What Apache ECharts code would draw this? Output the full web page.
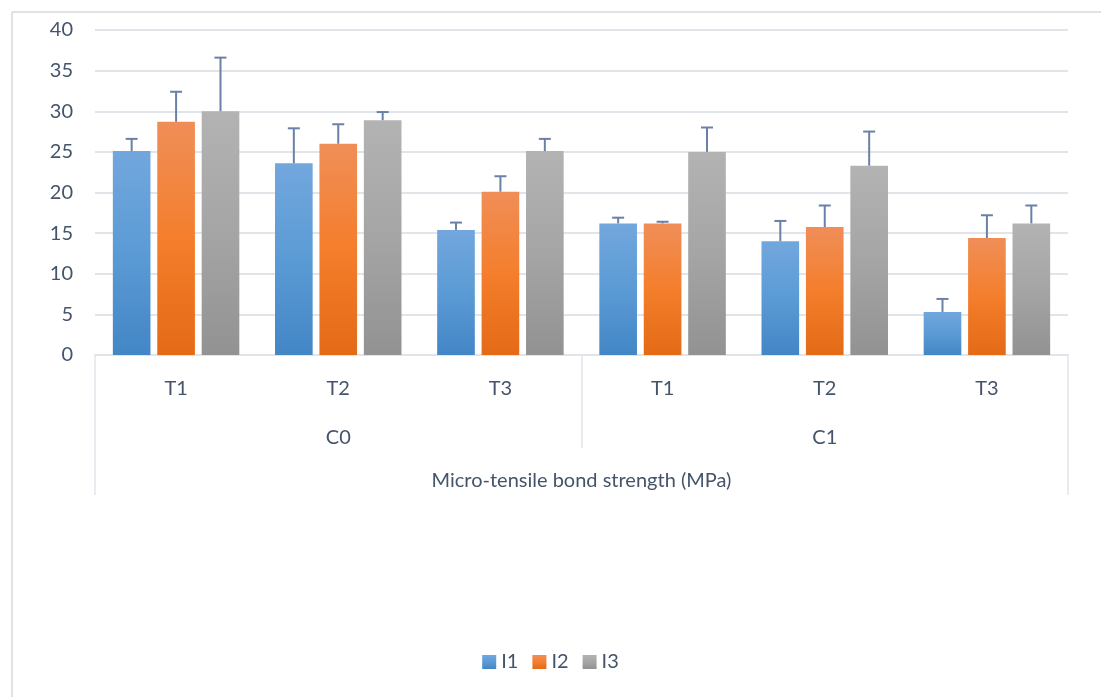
<!DOCTYPE html>
<html>
<head>
<meta charset="utf-8">
<script src="https://cdn.jsdelivr.net/npm/echarts@6/dist/echarts.min.js"></script>
<style>
  html, body { margin: 0; padding: 0; background: #fff; }
  #chartDom { width: 1101px; height: 697px; }
</style>
</head>
<body>
<div id="chartDom"></div>
<script>
// 数据
const subCats = ["T1", "T2", "T3", "T1", "T2", "T3"];
const groupCats = ["C0", "C1"];
const axisTitle = ["Micro-tensile bond strength (MPa)"];
const seriesNames = ["I1", "I2", "I3"];
const yTicks = [0, 5, 10, 15, 20, 25, 30, 35, 40];

const i1 = [25.1, 23.6, 15.4, 16.2, 14.0, 5.3];
const i2 = [28.7, 26.0, 20.1, 16.2, 15.75, 14.4];
const i3 = [30.0, 28.9, 25.1, 25.0, 23.3, 16.2];
// 误差线上端
const i1Err = [26.6, 27.9, 16.3, 16.9, 16.5, 6.9];
const i2Err = [32.4, 28.4, 22.0, 16.4, 18.4, 17.2];
const i3Err = [36.6, 29.9, 26.6, 28.0, 27.5, 18.4];

const textColor = "#44546A";
const gridColor = "#e1e5ea";
const font = "Lato";
const fs = 20;

const myChart = echarts.init(document.getElementById("chartDom"), null, { renderer: "canvas" });

function grad(top, mid, bottom) {
  return new echarts.graphic.LinearGradient(0, 0, 0, 1, [
    { offset: 0, color: top },
    { offset: 0.5, color: mid },
    { offset: 1, color: bottom },
  ]);
}
const fills = [
  grad("#72a7dd", "#5b9bd5", "#4386c6"),
  grad("#f08e58", "#f47e2c", "#e46a16"),
  grad("#b3b3b3", "#a5a5a5", "#929292"),
];
const values = [i1, i2, i3];
const errs = [i1Err, i2Err, i3Err];

const barCategoryGap = "22%";
const barGap = "18%";

// 误差线 (custom series, 只画上方)
function errSeries(k) {
  const data = values[k].map((v, i) => [i, v, errs[k][i]]);
  return {
    type: "custom",
    name: "err" + k,
    xAxisIndex: 0,
    z: 5,
    data: data,
    renderItem: function (params, api) {
      const idx = api.value(0);
      const p0 = api.coord([idx, api.value(1)]);
      const p1 = api.coord([idx, api.value(2)]);
      const band = api.size([1, 0])[0];
      const inner = band * (1 - 0.22);
      const bw = inner / (3 + 2 * 0.18);
      const x = p0[0] - inner / 2 + bw / 2 + k * bw * 1.18;
      const style = { stroke: "#6a80a6", lineWidth: 2 };
      return {
        type: "group",
        children: [
          { type: "line", shape: { x1: x, y1: p0[1], x2: x, y2: p1[1] }, style: style },
          { type: "line", shape: { x1: x - 6, y1: p1[1], x2: x + 6, y2: p1[1] }, style: style },
        ],
      };
    },
  };
}

const barSeries = seriesNames.map((name, k) => ({
  name: name,
  type: "bar",
  xAxisIndex: 0,
  data: values[k],
  barGap: barGap,
  barCategoryGap: barCategoryGap,
  itemStyle: { color: fills[k] },
  emphasis: { disabled: true },
}));

myChart.setOption({
  animation: false,
  textStyle: { fontFamily: font },
  grid: { left: 95, right: 33, top: 30, bottom: 342, containLabel: false },
  legend: {
    data: seriesNames,
    bottom: 20,
    left: "center",
    icon: "rect",
    itemWidth: 14,
    itemHeight: 14,
    itemGap: 14,
    textStyle: { color: textColor, fontSize: fs, fontFamily: font },
  },
  xAxis: [
    {
      type: "category",
      data: subCats,
      position: "bottom",
      axisLine: { show: true, lineStyle: { color: gridColor, width: 2 } },
      axisTick: { show: false },
      axisLabel: { color: textColor, fontSize: fs, margin: 24 },
    },
    {
      type: "category",
      data: groupCats,
      position: "bottom",
      axisLine: { show: false },
      axisTick: { show: true, inside: false, length: 93, lineStyle: { color: gridColor, width: 1.5 } },
      axisLabel: { color: textColor, fontSize: fs, margin: 73 },
    },
    {
      type: "category",
      data: axisTitle,
      position: "bottom",
      axisLine: { show: false },
      axisTick: { show: true, inside: false, length: 140, lineStyle: { color: gridColor, width: 1.5 } },
      axisLabel: { color: textColor, fontSize: fs, margin: 116 },
    },
  ],
  yAxis: {
    type: "value",
    min: yTicks[0],
    max: yTicks[yTicks.length - 1],
    interval: 5,
    axisLine: { show: false },
    axisTick: { show: false },
    axisLabel: { color: textColor, fontSize: fs, margin: 22 },
    splitLine: { lineStyle: { color: gridColor, width: 2 } },
  },
  graphic: [
    { type: "line", shape: { x1: 12, y1: 12, x2: 1101, y2: 12 }, style: { stroke: "#dfe3e8", lineWidth: 2 } },
    { type: "line", shape: { x1: 12, y1: 12, x2: 12, y2: 697 }, style: { stroke: "#dfe3e8", lineWidth: 2 } },
  ],
  series: barSeries.concat([errSeries(0), errSeries(1), errSeries(2)]),
});
</script>
</body>
</html>
